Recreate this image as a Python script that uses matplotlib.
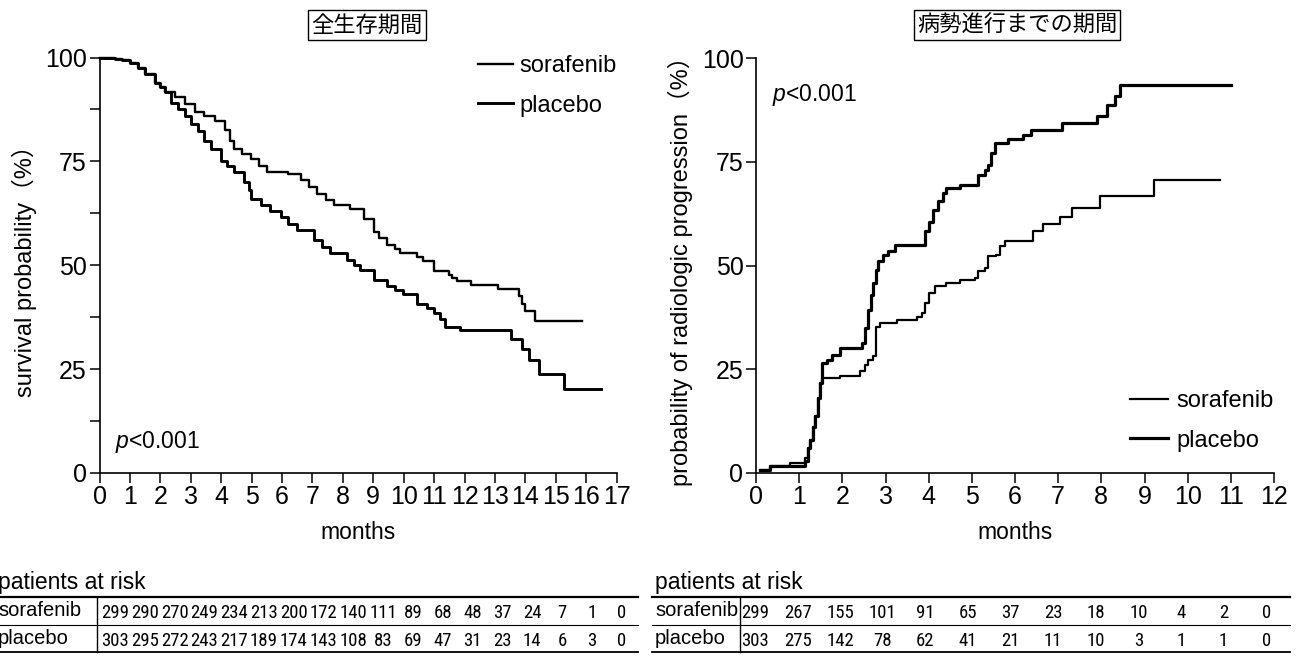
import numpy as np
import matplotlib
matplotlib.use('Agg')
import matplotlib.pyplot as plt
from matplotlib.ticker import FuncFormatter

plt.rcParams['font.family'] = ['Liberation Sans', 'Noto Sans CJK JP', 'DejaVu Sans']
plt.rcParams['mathtext.fontset'] = 'custom'
plt.rcParams['mathtext.rm'] = 'Liberation Sans'
plt.rcParams['mathtext.it'] = 'Liberation Sans:italic'

# --- overall survival (Kaplan-Meier, % alive) ---
os_sor_t = [0, 0.5, 0.75, 1.0, 1.27, 1.5, 1.82, 2.0, 2.15, 2.47, 2.8, 3.13, 3.45, 3.78,
            4.11, 4.3, 4.43, 4.7, 4.98, 5.25, 5.52, 6.18, 6.61, 6.9, 7.16, 7.45, 7.7,
            8.25, 8.68, 9.01, 9.2, 9.44, 9.7, 9.88, 10.42, 10.64, 11.0, 11.5, 11.6,
            11.75, 12.2, 13.1, 13.8, 13.9, 14.0, 14.3, 15.87]
os_sor_s = [100, 99.7, 99.3, 98.7, 97.4, 96.0, 93.8, 92.8, 91.8, 90.6, 88.8, 87.0, 86.0, 84.7,
            82.6, 80.0, 77.9, 76.8, 75.5, 73.8, 72.4, 72.0, 70.4, 68.8, 67.2, 65.8, 64.4,
            63.6, 61.2, 58.1, 56.5, 54.9, 53.8, 52.9, 52.1, 51.0, 48.7, 47.7, 46.9,
            46.3, 45.3, 44.4, 42.5, 40.6, 39.0, 36.5, 36.5]
os_pla_t = [0, 0.5, 0.75, 1.0, 1.27, 1.5, 1.82, 2.0, 2.15, 2.36, 2.58, 2.8, 3.0, 3.24,
            3.45, 3.67, 4.0, 4.2, 4.43, 4.76, 4.9, 4.98, 5.31, 5.6, 5.96, 6.2, 6.5, 7.05,
            7.3, 7.59, 8.14, 8.35, 8.57, 9.01, 9.44, 9.7, 9.99, 10.42, 10.75, 11.0,
            11.19, 11.35, 11.84, 13.53, 13.9, 14.13, 14.43, 15.27, 16.47]
os_pla_s = [100, 99.7, 99.3, 98.7, 97.4, 96.0, 93.8, 92.8, 91.8, 89.0, 87.5, 85.9, 84.0, 82.3,
            80.0, 77.9, 75.1, 73.8, 72.4, 70.0, 68.0, 66.0, 64.4, 63.0, 61.6, 60.0, 58.4, 56.1,
            54.5, 52.9, 51.3, 50.0, 48.9, 46.5, 45.0, 44.0, 43.0, 40.6, 39.8, 38.5,
            37.0, 35.1, 34.5, 32.2, 29.8, 27.3, 23.9, 20.1, 20.1]

# --- time to radiologic progression (% progressed) ---
ttp_sor_t = [0.09, 0.32, 0.79, 1.13, 1.2, 1.25, 1.31, 1.37, 1.43, 1.48, 1.52, 1.94, 2.41,
             2.52, 2.6, 2.72, 2.79, 2.87, 3.26, 3.72, 3.84, 3.92, 4.0, 4.14, 4.41, 4.72,
             5.07, 5.15, 5.3, 5.38, 5.57, 5.65, 5.76, 6.42, 6.65, 7.04, 7.31, 7.96, 9.21, 10.74]
ttp_sor_p = [0.8, 1.6, 2.4, 3.5, 6.0, 8.0, 11.0, 13.7, 18.0, 21.7, 22.9, 23.3, 24.5,
             26.0, 27.3, 28.1, 35.3, 36.1, 36.9, 37.7, 38.5, 41.0, 43.4, 45.0, 45.8, 46.6,
             47.0, 48.6, 49.4, 52.2, 52.6, 54.6, 55.8, 58.2, 60.1, 61.8, 63.9, 66.8, 70.7, 70.7]
ttp_pla_t = [0.09, 0.32, 1.13, 1.2, 1.25, 1.31, 1.37, 1.43, 1.48, 1.52, 1.64, 1.75, 1.94,
             2.45, 2.52, 2.6, 2.66, 2.72, 2.78, 2.83, 2.95, 3.05, 3.22, 3.91, 4.0, 4.1,
             4.22, 4.34, 4.41, 4.72, 5.15, 5.3, 5.38, 5.45, 5.53, 5.84, 6.19, 6.38, 7.08,
             7.89, 8.12, 8.31, 8.44, 11.01]
ttp_pla_p = [0.8, 1.6, 3.0, 6.0, 8.0, 11.0, 13.7, 18.0, 21.7, 26.5, 27.3, 28.5, 30.1,
             31.3, 35.0, 39.3, 43.0, 45.8, 49.0, 51.0, 52.6, 53.5, 55.0, 58.2, 60.5, 63.4,
             65.5, 67.5, 68.7, 69.5, 71.9, 73.0, 74.3, 77.0, 79.5, 80.6, 81.5, 82.7, 84.3,
             86.1, 88.6, 90.9, 93.6, 93.6]

# --- patients at risk ---
os_risk_sor = [299, 290, 270, 249, 234, 213, 200, 172, 140, 111, 89, 68, 48, 37, 24, 7, 1, 0]
os_risk_pla = [303, 295, 272, 243, 217, 189, 174, 143, 108, 83, 69, 47, 31, 23, 14, 6, 3, 0]
ttp_risk_sor = [299, 267, 155, 101, 91, 65, 37, 23, 18, 10, 4, 2, 0]
ttp_risk_pla = [303, 275, 142, 78, 62, 41, 21, 11, 10, 3, 1, 1, 0]

W, H = 1300, 661
fig = plt.figure(figsize=(W / 100, H / 100), dpi=100)


def px_axes(x0, x1, y0, y1, **kw):
    return fig.add_axes([x0 / W, 1 - y1 / H, (x1 - x0) / W, (y1 - y0) / H], **kw)


def style(ax):
    for s in ('top', 'right'):
        ax.spines[s].set_visible(False)
    for s in ('left', 'bottom'):
        ax.spines[s].set_linewidth(1.2)
    ax.tick_params(direction='out', length=7, width=1.1, labelsize=18, pad=2)


ax1 = px_axes(99.5, 616.7, 57.5, 473)
ax2 = px_axes(756, 1274, 58, 473)

# left: overall survival
ax1.step(os_sor_t, os_sor_s, where='post', color='k', lw=1.7, clip_on=False, label='sorafenib')
ax1.step(os_pla_t, os_pla_s, where='post', color='k', lw=2.1, clip_on=False, label='placebo')
ax1.set_xlim(0, 17)
ax1.set_ylim(0, 100)
ax1.set_xticks(range(0, 18))
ax1.set_yticks(np.arange(0, 100.1, 12.5))
ax1.yaxis.set_major_formatter(FuncFormatter(lambda v, _: f'{int(v)}' if v % 25 == 0 else ''))
style(ax1)
ax1.set_xlabel('months', fontsize=16.5, labelpad=8)
ax1.set_ylabel('survival probability（%）', fontsize=17, labelpad=6)
ax1.text(0.5, 7.5, '$p$<0.001', fontsize=16.5, va='center')
ax1.legend(loc='upper left', bbox_to_anchor=(478 / W, 1 - 55 / H), bbox_transform=fig.transFigure,
           frameon=False, fontsize=17, handlelength=1.5, handletextpad=0.25,
           labelspacing=0.75, borderpad=0, borderaxespad=0)

# right: time to progression
ax2.step(ttp_sor_t, ttp_sor_p, where='post', color='k', lw=1.6, clip_on=False, label='sorafenib')
ax2.step(ttp_pla_t, ttp_pla_p, where='post', color='k', lw=2.3, clip_on=False, label='placebo')
ax2.set_xlim(0, 12)
ax2.set_ylim(0, 100)
ax2.set_xticks(range(0, 13))
ax2.set_yticks([0, 25, 50, 75, 100])
style(ax2)
ax2.set_xlabel('months', fontsize=16.5, labelpad=8)
ax2.set_ylabel('probability of radiologic progression（%）', fontsize=17, labelpad=6)
ax2.text(0.37, 91, '$p$<0.001', fontsize=16.5, va='center')
ax2.legend(loc='upper left', bbox_to_anchor=(1130 / W, 1 - 390 / H), bbox_transform=fig.transFigure,
           frameon=False, fontsize=17, handlelength=1.6, handletextpad=0.35,
           labelspacing=0.75, borderpad=0, borderaxespad=0)

# boxed titles
box = dict(boxstyle='square,pad=0.15', fc='white', ec='k', lw=1)
fig.text(367 / W, 1 - 25 / H, '全生存期間', fontsize=16, ha='center', va='center',
         family=['Noto Sans CJK JP'], bbox=box)
fig.text(1017 / W, 1 - 25 / H, '病勢進行までの期間', fontsize=16, ha='center', va='center',
         family=['Noto Sans CJK JP'], bbox=box)

# patients-at-risk tables drawn on a pixel-space overlay
ov = fig.add_axes([0, 0, 1, 1], zorder=-1)
ov.set_xlim(0, W)
ov.set_ylim(H, 0)
ov.axis('off')

num_font = ['Roboto Condensed', 'Liberation Sans Narrow', 'Liberation Sans']


def risk_table(x0, x1, sep, label_x, first, step, rows):
    ov.text(label_x, 583, 'patients at risk', fontsize=16.5, va='center', ha='left')
    for y, lw in ((597, 1.6), (624.5, 0.8), (652, 1.3)):
        ov.plot([x0, x1], [y, y], color='k', lw=lw)
    ov.plot([sep, sep], [597, 652], color='k', lw=1)
    for (name, counts), yc in zip(rows, (610.5, 638.5)):
        ov.text(label_x, yc, name, fontsize=14.5, va='center', ha='left')
        for i, c in enumerate(counts):
            ov.text(first + step * i, yc + 7, str(c), fontsize=13.5, ha='center',
                    va='baseline', family=num_font, fontstretch='condensed')


risk_table(-2, 638, 97, -2, 115, 29.8,
           [('sorafenib', os_risk_sor), ('placebo', os_risk_pla)])
risk_table(652, 1290, 740, 655, 755, 42.6,
           [('sorafenib', ttp_risk_sor), ('placebo', ttp_risk_pla)])

fig.savefig('out.png', dpi=100, facecolor='white')
